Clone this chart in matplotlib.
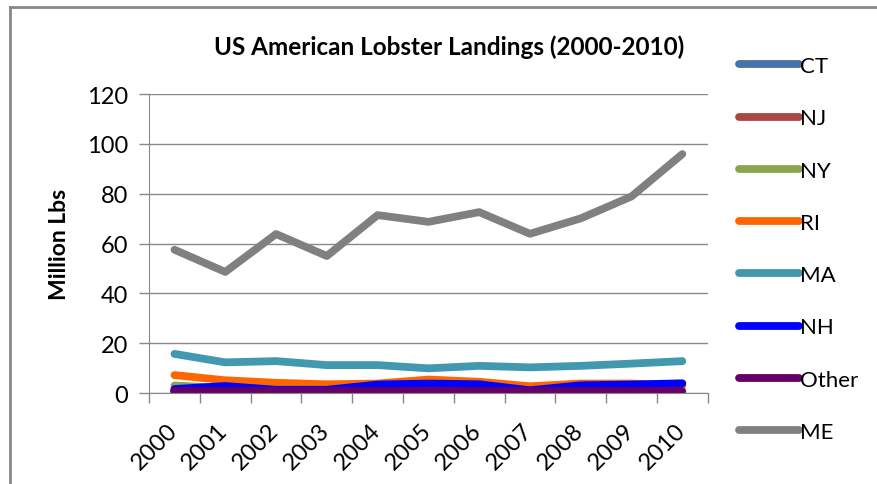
import matplotlib.pyplot as plt
from matplotlib.lines import Line2D

# Landings by state, million lbs
years = ['2000', '2001', '2002', '2003', '2004', '2005', '2006', '2007', '2008', '2009', '2010']
ct = [1.5, 1.2, 0.9, 0.7, 0.6, 0.6, 0.6, 0.5, 0.5, 0.5, 0.5]
nj = [0.6, 0.5, 0.5, 0.4, 0.4, 0.4, 0.4, 0.3, 0.3, 0.3, 0.3]
ny = [3.0, 2.0, 1.2, 1.0, 0.9, 0.9, 0.8, 0.7, 0.6, 0.5, 0.5]
ri = [7.2, 5.1, 4.1, 3.5, 3.8, 5.4, 4.5, 2.7, 3.8, 3.8, 3.0]
ma = [15.7, 12.3, 12.8, 11.2, 11.2, 9.9, 10.9, 10.3, 10.9, 11.8, 12.8]
nh = [1.6, 2.8, 1.3, 1.3, 3.4, 3.8, 3.5, 1.1, 3.1, 3.4, 3.9]
other = [0.8, 0.8, 0.8, 0.8, 0.8, 0.8, 0.8, 0.8, 0.8, 0.8, 0.8]
me = [57.5, 48.6, 63.8, 55.0, 71.4, 68.7, 72.6, 63.9, 70.1, 78.9, 95.9]

series = [('CT', ct, '#4572A7'), ('NJ', nj, '#AA4643'), ('NY', ny, '#89A54E'),
          ('RI', ri, '#FF6600'), ('MA', ma, '#4198AF'), ('NH', nh, '#0000FF'),
          ('Other', other, '#660066'), ('ME', me, '#808080')]

plt.rcParams['font.family'] = ['Lato', 'DejaVu Sans']

fig = plt.figure(figsize=(8.77, 4.85), dpi=100)
ax = fig.add_axes([0.170, 0.1876, 0.637, 0.6165])

x = list(range(len(years)))
for name, vals, col in series:
    ax.plot(x, vals, color=col, lw=5.6, label=name,
            solid_capstyle='round', solid_joinstyle='round')

ax.set_xlim(-0.5, len(years) - 0.5)
ax.set_ylim(0, 120)
ax.set_yticks(range(0, 121, 20))
# tick marks sit between categories; the rotated labels hang just left of each category
ax.set_xticks([i - 0.5 for i in range(len(years) + 1)])
ax.set_xticklabels([])
ax.set_xticks([i - 0.16 for i in x], minor=True)
ax.set_xticklabels(years, minor=True, rotation=45, ha='right', va='top',
                   rotation_mode='anchor', fontsize=17)
ax.tick_params(axis='x', which='minor', length=0, pad=19)
ax.tick_params(axis='x', which='major', length=7, color='#888888', width=1)
ax.tick_params(axis='y', length=7, color='#888888', width=1, labelsize=17, pad=8)

ax.grid(axis='y', color='#888888', lw=1)
ax.set_axisbelow(True)
for side in ['top', 'right']:
    ax.spines[side].set_visible(False)
for side in ['left', 'bottom']:
    ax.spines[side].set_color('#888888')

ax.set_ylabel('Million Lbs', fontsize=16.5, fontweight='bold', labelpad=12)
fig.text(0.512, 0.903, 'US American Lobster Landings (2000-2010)',
         ha='center', va='center', fontsize=17.5, fontweight='bold')

fig.legend(loc='upper left', bbox_to_anchor=(0.843, 0.882), frameon=False,
           fontsize=16, handlelength=2.7, handletextpad=0.05,
           labelspacing=1.45, borderpad=0, borderaxespad=0)

# outer chart border (top and left edges)
fig.add_artist(Line2D([10 / 877, 1], [1 - 8 / 485, 1 - 8 / 485], color='#888888', lw=2))
fig.add_artist(Line2D([10 / 877, 10 / 877], [0, 1 - 8 / 485], color='#888888', lw=2))

fig.savefig('out.png', dpi=100)
